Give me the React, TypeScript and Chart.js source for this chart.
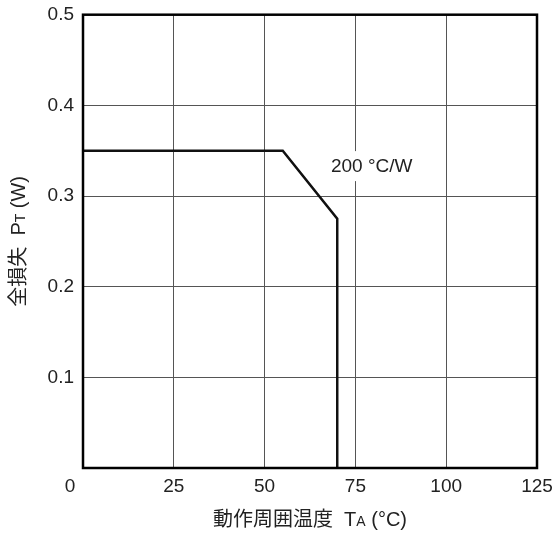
import { useEffect, useRef } from 'react';
import { Chart, registerables } from 'chart.js';

Chart.register(...registerables);

// curva de derating (temperatura ambiente x potência)
const tempPoints = [0, 55, 70, 70];
const powerPoints = [0.35, 0.35, 0.275, 0];
const xTicks = [0, 25, 50, 75, 100, 125];
const yTicks = [0, 0.1, 0.2, 0.3, 0.4, 0.5];
const noteText = '200 °C/W';
const noteAt = [79.5, 0.333];

const LATIN = '"Liberation Sans", Arial, sans-serif';
const CJK = '"Noto Sans CJK JP", "Liberation Sans", sans-serif';

type Seg = { t: string; size: number; font: string };

function drawSegs(ctx: CanvasRenderingContext2D, segs: Seg[], cx: number, cy: number) {
  let total = 0;
  const widths = segs.map((s) => {
    ctx.font = `${s.size}px ${s.font}`;
    const w = ctx.measureText(s.t).width;
    total += w;
    return w;
  });
  let x = cx - total / 2;
  ctx.textBaseline = 'alphabetic';
  ctx.textAlign = 'left';
  segs.forEach((s, i) => {
    ctx.font = `${s.size}px ${s.font}`;
    ctx.fillText(s.t, x, cy + 7);
    x += widths[i];
  });
}

const decorPlugin = {
  id: 'decor',
  afterDraw(chart: Chart) {
    const { ctx, chartArea: a, scales } = chart;
    const xs = scales.x;
    const ys = scales.y;
    ctx.save();

    // moldura
    ctx.strokeStyle = '#000';
    ctx.lineWidth = 2.5;
    ctx.strokeRect(a.left, a.top, a.right - a.left, a.bottom - a.top);

    // rótulos do eixo x (o "0" fica deslocado para a esquerda)
    ctx.fillStyle = '#222';
    ctx.font = `19px ${LATIN}`;
    ctx.textAlign = 'center';
    ctx.textBaseline = 'middle';
    xTicks.forEach((v) => {
      const px = xs.getPixelForValue(v) - (v === 0 ? 13 : 0);
      ctx.fillText(String(v), px, a.bottom + 19);
    });

    // anotação
    const nx = xs.getPixelForValue(noteAt[0]);
    const ny = ys.getPixelForValue(noteAt[1]);
    ctx.font = `19px ${LATIN}`;
    const nw = ctx.measureText(noteText).width;
    ctx.fillStyle = '#fff';
    ctx.fillRect(nx - nw / 2 - 3, ny - 15, nw + 6, 30);
    ctx.fillStyle = '#222';
    ctx.fillText(noteText, nx, ny + 1);

    // título do eixo x
    drawSegs(
      ctx,
      [
        { t: '動作周囲温度', size: 20, font: CJK },
        { t: '  T', size: 20, font: LATIN },
        { t: 'A', size: 14, font: LATIN },
        { t: ' (°C)', size: 20, font: LATIN },
      ],
      (a.left + a.right) / 2,
      a.bottom + 51
    );

    // título do eixo y
    ctx.translate(18, (a.top + a.bottom) / 2);
    ctx.rotate(-Math.PI / 2);
    drawSegs(
      ctx,
      [
        { t: '全損失', size: 20, font: CJK },
        { t: '  P', size: 20, font: LATIN },
        { t: 'T', size: 14, font: LATIN },
        { t: ' (W)', size: 20, font: LATIN },
      ],
      0,
      0
    );
    ctx.restore();
  },
};

export default function App() {
  const canvasRef = useRef<HTMLCanvasElement>(null);
  const chartRef = useRef<Chart | null>(null);

  useEffect(() => {
    document.body.style.margin = '0';
    if (!canvasRef.current) return;
    if (chartRef.current) chartRef.current.destroy();

    chartRef.current = new Chart(canvasRef.current, {
      type: 'line',
      data: {
        datasets: [
          {
            data: tempPoints.map((t, i) => ({ x: t, y: powerPoints[i] })),
            borderColor: '#111',
            borderWidth: 2.5,
            pointRadius: 0,
            tension: 0,
            fill: false,
          },
        ],
      },
      options: {
        responsive: false,
        animation: false,
        layout: { padding: { top: 14, right: 20, left: 0, bottom: 0 } },
        plugins: { legend: { display: false }, tooltip: { enabled: false } },
        scales: {
          x: {
            type: 'linear',
            min: 0,
            max: 125,
            afterBuildTicks: (s: any) => {
              s.ticks = xTicks.map((v) => ({ value: v }));
            },
            ticks: { display: false },
            grid: { color: '#555', lineWidth: 1, drawTicks: false },
            border: { display: false },
            afterFit: (s: any) => {
              s.height = 68;
            },
          },
          y: {
            type: 'linear',
            min: 0,
            max: 0.5,
            afterBuildTicks: (s: any) => {
              s.ticks = yTicks.map((v) => ({ value: v }));
            },
            ticks: {
              padding: 9,
              color: '#222',
              font: { family: LATIN, size: 19, lineHeight: 0.6 },
              callback: (v: any) => (v === 0 ? '' : Number(v).toFixed(1)),
            },
            grid: { color: '#555', lineWidth: 1, drawTicks: false },
            border: { display: false },
            afterFit: (s: any) => {
              s.width = 83;
            },
          },
        },
      },
      plugins: [decorPlugin],
    });

    return () => {
      if (chartRef.current) {
        chartRef.current.destroy();
        chartRef.current = null;
      }
    };
  }, []);

  return (
    <div style={{ width: 557, height: 536, background: '#fff' }}>
      <canvas ref={canvasRef} width={557} height={536} />
    </div>
  );
}
